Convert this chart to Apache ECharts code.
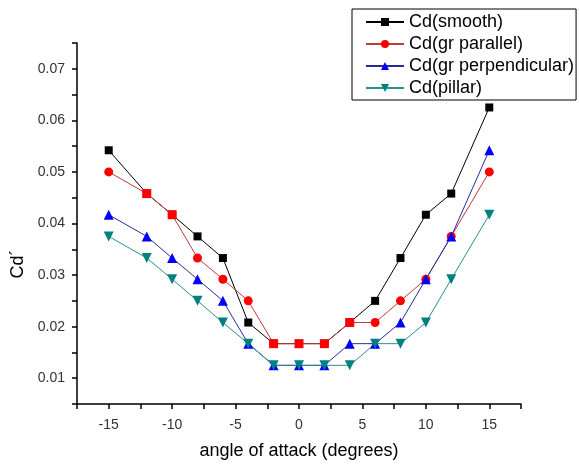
<!DOCTYPE html>
<html>
<head>
<meta charset="utf-8">
<script src="https://cdn.jsdelivr.net/npm/echarts@6/dist/echarts.min.js"></script>
<style>html,body{margin:0;padding:0;background:#fff;}#c{width:579px;height:466px;}</style>
</head>
<body>
<div id="c"></div>
<script>
const angles = [-15, -12, -10, -8, -6, -4, -2, 0, 2, 4, 6, 8, 10, 12, 15];
const cdSmooth = [0.0542, 0.0458, 0.0417, 0.0375, 0.0333, 0.0208, 0.0167, 0.0167, 0.0167, 0.0208, 0.025, 0.0333, 0.0417, 0.0458, 0.0625];
const cdParallel = [0.05, 0.0458, 0.0417, 0.0333, 0.0292, 0.025, 0.0167, 0.0167, 0.0167, 0.0208, 0.0208, 0.025, 0.0292, 0.0375, 0.05];
const cdPerpendicular = [0.0417, 0.0375, 0.0333, 0.0292, 0.025, 0.0167, 0.0125, 0.0125, 0.0125, 0.0167, 0.0167, 0.0208, 0.0292, 0.0375, 0.0542];
const cdPillar = [0.0375, 0.0333, 0.0292, 0.025, 0.0208, 0.0167, 0.0125, 0.0125, 0.0125, 0.0125, 0.0167, 0.0167, 0.0208, 0.0292, 0.0417];
const seriesNames = ['Cd(smooth)', 'Cd(gr parallel)', 'Cd(gr perpendicular)', 'Cd(pillar)'];
const xTitle = 'angle of attack (degrees)';
const yTitle = 'Cd\u00B4';

const chart = echarts.init(document.getElementById('c'), null, {renderer: 'canvas'});
const pairs = (ys) => angles.map((a, i) => [a, ys[i]]);
// where gr parallel coincides with smooth, the reference shows a red square
const parallelData = angles.map((a, i) => {
  const item = {value: [a, cdParallel[i]]};
  if (cdParallel[i] === cdSmooth[i]) item.symbol = 'rect';
  return item;
});

const font = 'Arial, "Liberation Sans", sans-serif';

chart.setOption({
  animation: false,
  backgroundColor: '#fff',
  grid: {left: 77, right: 58, top: 43, bottom: 62},
  legend: {
    orient: 'vertical',
    left: 352, top: 9,
    padding: [4, 2, 3, 13],
    itemWidth: 38, itemHeight: 10, itemGap: 4,
    borderColor: '#000', borderWidth: 1, backgroundColor: '#fff',
    textStyle: {fontFamily: font, fontSize: 18, color: '#000'},
    data: seriesNames
  },
  xAxis: {
    type: 'value', min: -17.5, max: 17.5, interval: 2.5,
    axisLine: {onZero: false, lineStyle: {color: '#000', width: 1.5}},
    axisTick: {show: true, inside: false, length: 5, lineStyle: {color: '#000', width: 1.5}},
    splitLine: {show: false},
    axisLabel: {
      margin: 14, fontFamily: font, fontSize: 14, color: '#333',
      formatter: v => (Math.abs(v % 5) < 1e-9 ? String(Math.round(v)) : '')
    },
    name: xTitle, nameLocation: 'middle', nameGap: 38,
    nameTextStyle: {fontFamily: font, fontSize: 18, color: '#000'}
  },
  yAxis: {
    type: 'value', min: 0.005, max: 0.075, interval: 0.005,
    axisLine: {onZero: false, lineStyle: {color: '#000', width: 1.5}},
    axisTick: {show: true, inside: false, length: 5, lineStyle: {color: '#000', width: 1.5}},
    splitLine: {show: false},
    axisLabel: {
      margin: 12, fontFamily: font, fontSize: 14, color: '#333',
      formatter: v => (Math.round(v / 0.005) % 2 === 0 ? v.toFixed(2) : '')
    }
  },
  graphic: [{
    type: 'text', x: 18, y: 264, rotation: Math.PI / 2,
    style: {text: yTitle, font: '18px ' + font, fill: '#000', textAlign: 'center', textVerticalAlign: 'middle'}
  }],
  series: [
    {name: seriesNames[0], type: 'line', data: pairs(cdSmooth), symbol: 'rect', symbolSize: 8,
     itemStyle: {color: '#000'}, lineStyle: {color: '#000', width: 1}},
    {name: seriesNames[1], type: 'line', data: parallelData, symbol: 'circle', symbolSize: 9,
     itemStyle: {color: '#ff0000'}, lineStyle: {color: '#c03a3a', width: 1}},
    {name: seriesNames[2], type: 'line', data: pairs(cdPerpendicular), symbol: 'triangle', symbolSize: 10,
     itemStyle: {color: '#0000ff'}, lineStyle: {color: '#2a2a9a', width: 1}},
    {name: seriesNames[3], type: 'line', data: pairs(cdPillar), symbol: 'triangle', symbolRotate: 180, symbolSize: 10,
     itemStyle: {color: '#008080'}, lineStyle: {color: '#2a9090', width: 1}}
  ]
});
</script>
</body>
</html>
